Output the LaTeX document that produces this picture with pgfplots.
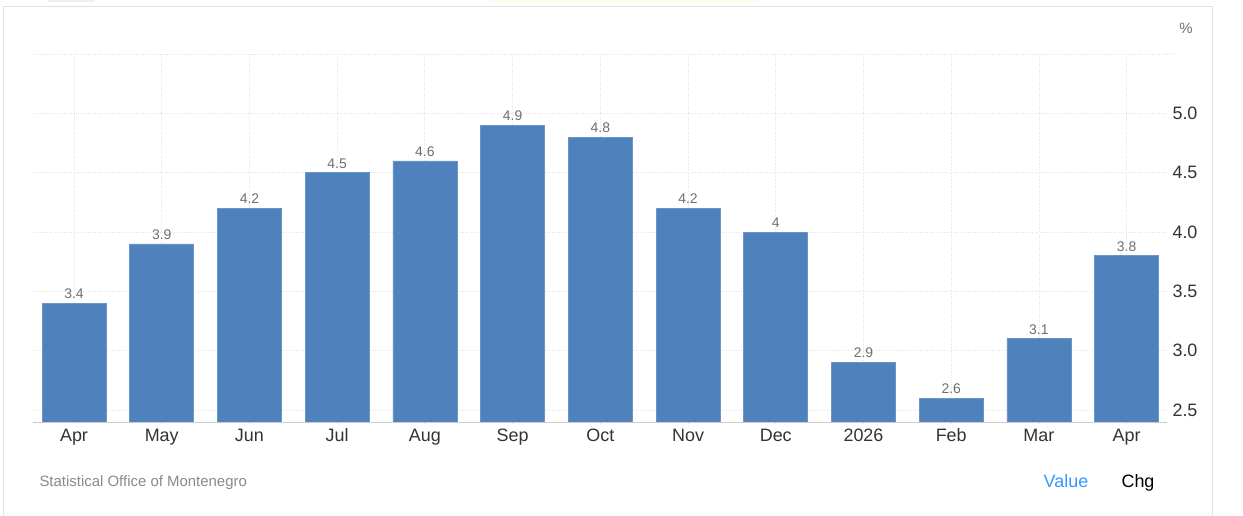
\documentclass[border=0pt]{standalone}
\usepackage{fontspec}
\setmainfont{Liberation Sans}
\usepackage{pgfplots}
\pgfplotsset{compat=1.18}
\definecolor{barblue}{HTML}{4F81BD}
\definecolor{baredge}{HTML}{6A95C8}
\definecolor{gridgray}{HTML}{E3E3E3}
\definecolor{framegray}{HTML}{E2E2E2}
\definecolor{ticktext}{HTML}{333333}
\definecolor{valtext}{HTML}{6E6E6E}
\definecolor{srctext}{HTML}{8A8A8A}
\definecolor{linkblue}{HTML}{3399FF}
\begin{document}
\begin{tikzpicture}[x=1bp,y=1bp]
\useasboundingbox (0,0) rectangle (1243,516);
\fill[white] (0,0) rectangle (1243,516);
\draw[framegray, line width=1bp] (3,0) -- (3,509) -- (1212,509) -- (1212,0);
\fill[gray!12] (48,513.5) rectangle (95,516);
\fill[black!6!yellow!8] (490,513.5) rectangle (760,516);
\begin{axis}[
  at={(33bp,93bp)}, anchor=south west,
  scale only axis, width=1134bp, height=370bp,
  xmin=-0.4675, xmax=12.46,
  ymin=2.39, ymax=5.51,
  ybar, bar width=64bp,
  xtick={0,...,12},
  xticklabels={Apr,May,Jun,Jul,Aug,Sep,Oct,Nov,Dec,2026,Feb,Mar,Apr},
  ytick={2.5,3.0,3.5,4.0,4.5,5.0,5.5},
  yticklabels={2.5,3.0,3.5,4.0,4.5,5.0,},
  yticklabel pos=right,
  major tick length=0pt,
  grid=major,
  major grid style={gridgray, dotted, line width=0.8bp},
  axis line style={framegray, line width=1bp},
  x axis line style={draw=none},
  tick label style={text=ticktext, font=\fontsize{18}{21}\selectfont},
  xticklabel style={anchor=base, yshift=-19bp},
  yticklabel style={xshift=2bp},
  /pgf/number format/assume math mode=true,
  nodes near coords,
  nodes near coords style={text=valtext, font=\fontsize{14}{16}\selectfont, anchor=south, yshift=1bp},
  clip=true,
]
\addplot[fill=barblue, draw=baredge, line width=0.6bp] coordinates {
(0,3.4) (1,3.9) (2,4.2) (3,4.5) (4,4.6) (5,4.9) (6,4.8) (7,4.2) (8,4) (9,2.9) (10,2.6) (11,3.1) (12,3.8)};
\draw[color=black!20, line width=1bp] (axis cs:-0.4675,2.39) -- (axis cs:12.46,2.39);
\end{axis}
\draw[gridgray, dotted, line width=0.8bp] (1167,463) -- (1178,463);
\node[text=valtext, font=\fontsize{15}{18}\selectfont] at (1186,488) {\%};
\node[anchor=base west, text=srctext, font=\fontsize{15}{18}\selectfont] at (36,29) {Statistical Office of Montenegro};
\node[anchor=base, text=linkblue, font=\fontsize{18}{21}\selectfont] at (1066,28) {Value};
\node[anchor=base, text=black, font=\fontsize{18}{21}\selectfont] at (1138,28) {Chg};
\end{tikzpicture}
\end{document}
